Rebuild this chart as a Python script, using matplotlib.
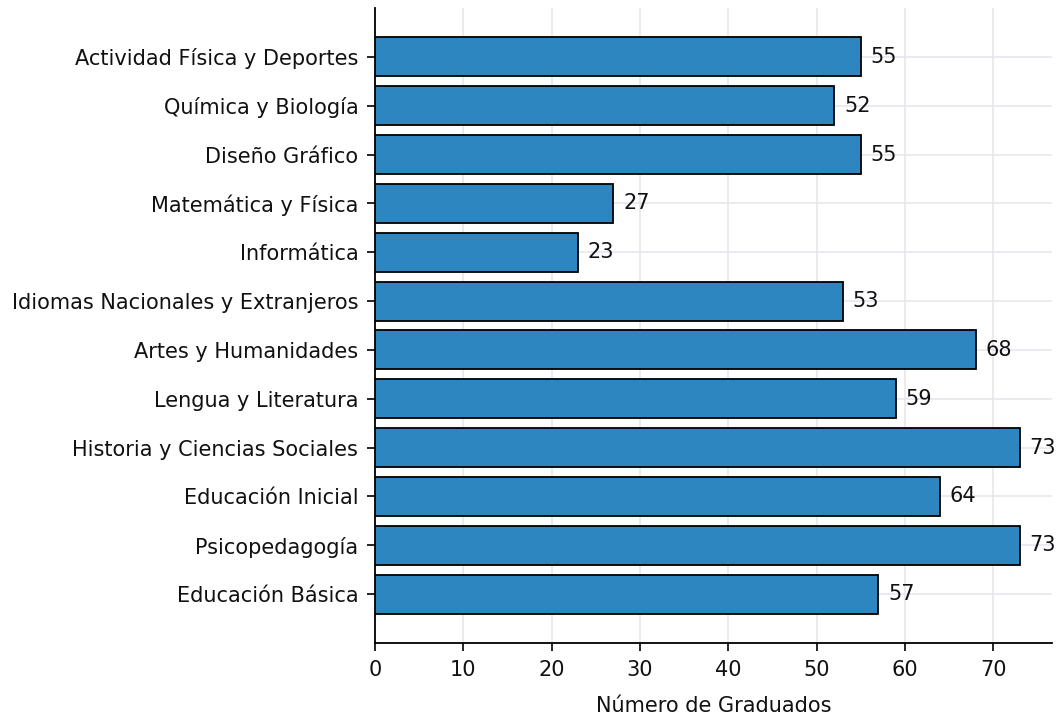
import matplotlib
matplotlib.use("Agg")
import matplotlib.pyplot as plt

categories = ["Educación Básica", "Psicopedagogía", "Educación Inicial",
              "Historia y Ciencias Sociales", "Lengua y Literatura",
              "Artes y Humanidades", "Idiomas Nacionales y Extranjeros",
              "Informática", "Matemática y Física", "Diseño Gráfico",
              "Química y Biología", "Actividad Física y Deportes"]
values = [57, 73, 64, 73, 59, 68, 53, 23, 27, 55, 52, 55]

plt.rcParams['font.family'] = ['DejaVu Sans']
fig = plt.figure(figsize=(10.62, 7.2), dpi=100)
ax = fig.add_axes([375/1062, 1 - 643/720, (1052-375)/1062, (643-8)/720])

y = list(range(len(categories)))
bars = ax.barh(y, values, height=0.8, color="#2e86c1", edgecolor="black", linewidth=1.3, zorder=3)
for yi, v in zip(y, values):
    ax.annotate(str(v), (v, yi), xytext=(7, 0), textcoords="offset points",
                va="center", ha="left", fontsize=15, color="#111111")

ax.set_yticks(y)
ax.set_yticklabels(categories)
ax.set_ylim(-1, 12)
ax.set_xlim(0, max(values) * 1.05)
ax.set_xticks(range(0, 80, 10))
ax.tick_params(axis="both", labelsize=15, length=6, width=1.2, color="black", labelcolor="#111111")
ax.tick_params(axis="y", pad=6)
ax.tick_params(axis="x", pad=6)
ax.set_xlabel("Número de Graduados", fontsize=15, labelpad=12, color="#111111")
ax.grid(True, color="#e6e6ee", linewidth=1.2, zorder=0)
ax.set_axisbelow(True)
for s in ["top", "right"]:
    ax.spines[s].set_visible(False)
for s in ["left", "bottom"]:
    ax.spines[s].set_color("black")
    ax.spines[s].set_linewidth(1.3)

fig.savefig("out.png", dpi=100)
